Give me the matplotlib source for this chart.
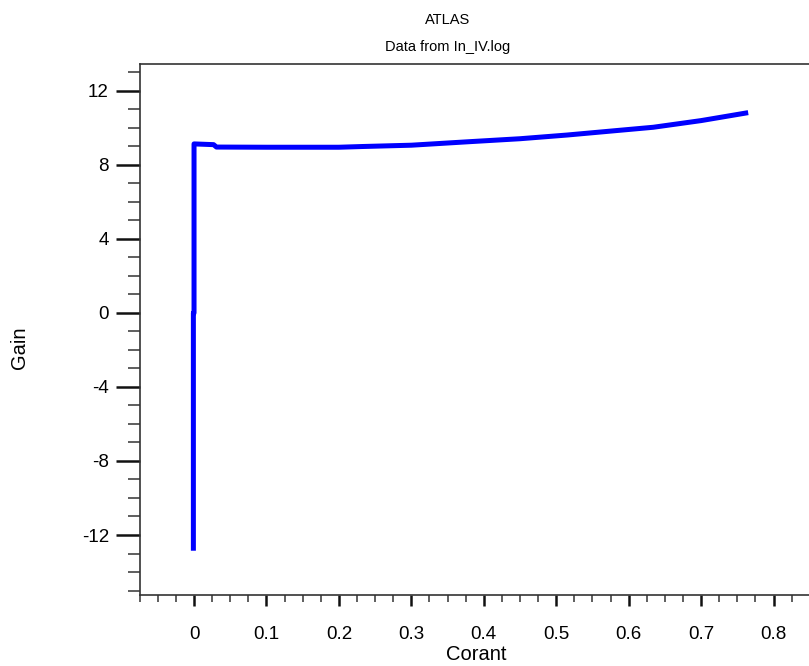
import matplotlib
matplotlib.use("Agg")
import matplotlib.pyplot as plt
from matplotlib.ticker import MultipleLocator, FixedLocator

plt.rcParams['font.family'] = ['Liberation Sans', 'DejaVu Sans']

# Data
corant = [-0.0009, -0.0009, 0.0, 0.0, 0.027, 0.031, 0.1, 0.2, 0.233, 0.3, 0.38,
          0.45, 0.515, 0.58, 0.634, 0.7, 0.765]
gain = [-12.85, 0.0, 0.0, 9.14, 9.1, 8.97, 8.96, 8.96, 9.0, 9.07, 9.26,
        9.42, 9.62, 9.85, 10.04, 10.4, 10.83]

title = "ATLAS"
subtitle = "Data from In_IV.log"
xlabel = "Corant"
ylabel = "Gain"
xticks = [0, 0.1, 0.2, 0.3, 0.4, 0.5, 0.6, 0.7, 0.8]
xticklabels = ["0", "0.1", "0.2", "0.3", "0.4", "0.5", "0.6", "0.7", "0.8"]
yticks = [-12, -8, -4, 0, 4, 8, 12]

W, H = 809, 666
fig = plt.figure(figsize=(W / 100, H / 100), dpi=100)
left_px, right_px, top_px, bottom_px = 139.5, 809, 64.5, 594.5
ax = fig.add_axes([left_px / W, 1 - bottom_px / H,
                   (right_px - left_px) / W, (bottom_px - top_px) / H])

ax.plot(corant, gain, color='#0000ff', lw=3.6, solid_capstyle='butt',
        solid_joinstyle='round')

# scales: x 0 at px 193.5, 725 px per unit; y 12 at px 91, 18.5 px per unit
x0, xs = 193.5, 725.0
ax.set_xlim((left_px - x0) / xs - 0.0008, (right_px - x0) / xs)
y12, ys = 91.0, 18.5
ax.set_ylim(12 - (bottom_px - y12) / ys, 12 - (top_px - y12) / ys)

ax.xaxis.set_major_locator(FixedLocator(xticks))
ax.set_xticklabels(xticklabels)
ax.xaxis.set_minor_locator(MultipleLocator(0.025))
ax.yaxis.set_major_locator(FixedLocator(yticks))
ax.set_yticklabels([str(v) for v in yticks])
ax.yaxis.set_minor_locator(MultipleLocator(1))

ax.spines['right'].set_visible(False)
for s in ['left', 'top', 'bottom']:
    ax.spines[s].set_color('#333333')
    ax.spines[s].set_linewidth(1.2)

ax.tick_params(axis='x', which='major', direction='out', length=8, width=1.8,
               color='#111111', pad=15, labelsize=13.5)
ax.tick_params(axis='x', which='minor', direction='out', length=5, width=1.1,
               color='#333333')
ax.tick_params(axis='y', which='major', direction='out', length=17, width=1.8,
               color='#111111', pad=5, labelsize=13.5)
ax.tick_params(axis='y', which='minor', direction='out', length=9, width=1.1,
               color='#333333')
ax.tick_params(top=False, right=False, which='both')

fig.text(448 / W, 1 - 20 / H, title, ha='center', va='center', fontsize=10.5)
fig.text(448 / W, 1 - 47 / H, subtitle, ha='center', va='center', fontsize=10.5)
fig.text(476 / W, 1 - 655 / H, xlabel, ha='center', va='center', fontsize=14.5)
fig.text(20 / W, 1 - 348 / H, ylabel, ha='center', va='center', fontsize=14.5,
         rotation=90)

fig.savefig("out.png", dpi=100)
